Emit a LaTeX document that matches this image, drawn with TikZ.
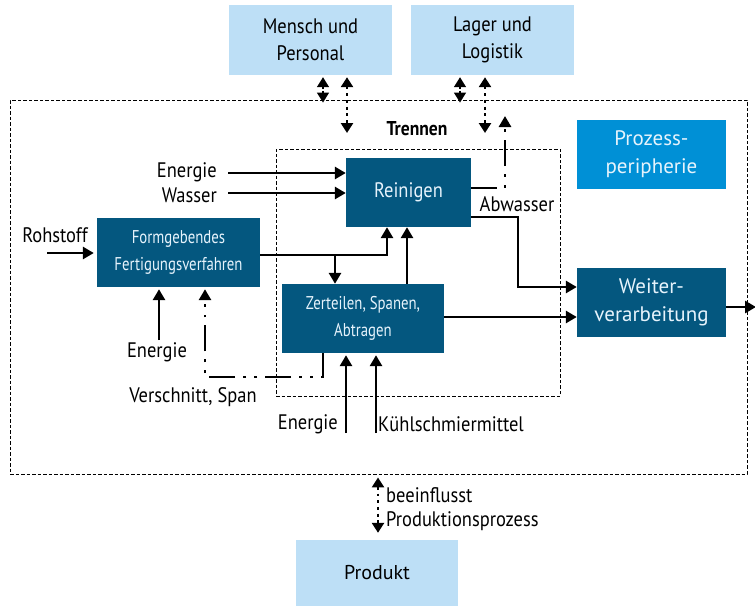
\documentclass[tikz,border=0pt]{standalone}
\usepackage{fontspec}
\setmainfont{PT Sans}[FakeStretch=0.88]
\newfontfamily\widefont{PT Sans}
\newfontfamily\boxfont{PT Sans}[FakeStretch=0.8]
\usetikzlibrary{arrows.meta}
\definecolor{dblue}{HTML}{04577F}
\definecolor{mblue}{HTML}{0090D6}
\definecolor{lblue}{HTML}{BDDFF6}
\definecolor{boxtext}{HTML}{E6F3FC}
\begin{document}
\begin{tikzpicture}[x=1pt,y=-1pt,
  darkbox/.style={fill=dblue,text=boxtext,align=center,inner sep=0pt,minimum height=69pt,font=\boxfont\fontsize{18.5}{27}\selectfont},
  lightbox/.style={fill=lblue,text=black,align=center,inner sep=0pt,minimum height=70pt,font=\fontsize{21}{27}\selectfont},
  frame/.style={draw,dash pattern=on 3.5pt off 2pt,line width=0.9pt,inner sep=0pt},
  lbl/.style={font=\fontsize{21}{26}\selectfont,inner sep=0pt},
  arr/.style={line width=2.9pt,-{Triangle[length=11pt,width=12pt]}},
  dotarr/.style={line width=2.9pt,dash pattern=on 2.9pt off 3.8pt,{Triangle[length=10pt,width=12pt]}-{Triangle[length=10pt,width=12pt]}},
  smallarr/.style={line width=1.5pt,dash pattern=on 2pt off 2pt,{Triangle[length=10pt,width=12pt]}-{Triangle[length=10pt,width=12pt]}},
  dashdot/.style={line width=2.9pt,dash pattern=on 26pt off 8pt on 2.9pt off 8pt on 2.9pt off 8pt,-{Triangle[length=11pt,width=12pt]}}
]
\useasboundingbox (0,0) rectangle (755,606);
% frames
\node[frame,minimum width=737pt,minimum height=374pt] (outer) at (378.5,287) {};
\node[frame,minimum width=284pt,minimum height=247pt] (inner) at (418,272.5) {};
\node[font=\fontsize{20}{20}\bfseries\selectfont,inner sep=0pt] (trennen) at (417,129) {Trennen};
% boxes
\node[lightbox,minimum width=163pt] (mensch) at (310.5,40) {Mensch und\\Personal};
\node[lightbox,minimum width=163pt] (lager) at (492.5,40) {Lager und\\Logistik};
\node[fill=mblue,text=boxtext,align=center,inner sep=0pt,minimum width=149pt,minimum height=69pt,font=\widefont\fontsize{21}{28}\selectfont] (peri) at (651.5,154.5) {Prozess-\\peripherie};
\node[darkbox,minimum width=125pt,font=\fontsize{21}{24}\selectfont] (rein) at (408.5,192.5) {Reinigen};
\node[darkbox,minimum width=163pt] (form) at (178.5,252.5) {Formgebendes\\Fertigungsverfahren};
\node[darkbox,minimum width=162pt] (zer) at (363,318.5) {Zerteilen, Spanen,\\Abtragen};
\node[darkbox,minimum width=149pt,font=\widefont\fontsize{21}{28}\selectfont] (weit) at (651.5,302.5) {Weiter-\\verarbeitung};
\node[lightbox,minimum width=162pt,minimum height=66pt,font=\widefont\fontsize{20}{24}\selectfont] (prod) at (377,573) {Produkt};
% labels
\node[lbl,anchor=east] (len1) at (217,172) {Energie};
\node[lbl,anchor=east] (lwas) at (217,195) {Wasser};
\node[lbl] (lroh) at (55,235) {Rohstoff};
\node[lbl] (len2) at (157,352) {Energie};
\node[lbl] (lver) at (193,397) {Verschnitt, Span};
\node[lbl,anchor=east] (len3) at (338,424) {Energie};
\node[lbl,anchor=west] (lkuehl) at (378,424) {Kühlschmiermittel};
\node[lbl] (labw) at (517,204) {Abwasser};
\node[lbl,anchor=west] (lbee) at (386,495) {beeinflusst};
\node[lbl,anchor=west] (lprp) at (386,521) {Produktionsprozess};
% coordinates
\coordinate (e1) at (228,173);
\coordinate (e2) at (228,193);
\coordinate (r0) at (47,253);
\coordinate (j1) at (387,255);
\coordinate (j2) at (335,255);
\coordinate (j3) at (407,0);
\coordinate (j4) at (518,217);
\coordinate (j5) at (518,287);
\coordinate (j6) at (0,317);
\coordinate (out) at (756,307);
\coordinate (a1) at (505,188);
\coordinate (a2) at (505,116);
\coordinate (e3) at (159,340);
\coordinate (v1) at (323,377);
\coordinate (v2) at (205,377);
\coordinate (e4) at (346,433);
\coordinate (e5) at (376,433);
\coordinate (m1) at (323,0);
\coordinate (m2) at (347,133);
\coordinate (l1) at (460,0);
\coordinate (l2) at (485,133);
\coordinate (b1) at (378,0);
% connectors
\draw[arr] (e1) -- (e1 -| rein.west);
\draw[arr] (e2) -- (e2 -| rein.west);
\draw[arr,shorten >=3pt] (r0) -- (r0 -| form.west);
\draw[arr] (form.east |- j1) -- (j1) -- (j1 |- rein.south);
\draw[arr] (j2) -- (j2 |- zer.north);
\draw[arr] (zer.north -| j3) -- (j3 |- rein.south);
\draw[arr] (rein.east |- j4) -- (j4) -- (j5) -- (j5 -| weit.west);
\draw[arr] (zer.east |- j6) -- (j6 -| weit.west);
\draw[arr] (weit.east |- out) -- (out);
\draw[dashdot] (rein.east |- a1) -- (a1) -- (a2);
\draw[arr,shorten >=2pt] (e3) -- (e3 |- form.south);
\draw[dashdot,shorten >=2pt] (zer.south -| v1) -- (v1) -- (v2) -- (v2 |- form.south);
\draw[arr,shorten >=2pt] (e4) -- (e4 |- zer.south);
\draw[arr,shorten >=2pt] (e5) -- (e5 |- zer.south);
\draw[smallarr,shorten <=2pt,shorten >=-3pt] (mensch.south -| m1) -- (m1 |- outer.north);
\draw[dotarr,shorten <=2pt] (mensch.south -| m2) -- (m2);
\draw[smallarr,shorten <=2pt,shorten >=-3pt] (lager.south -| l1) -- (l1 |- outer.north);
\draw[dotarr,shorten <=2pt] (lager.south -| l2) -- (l2);
\draw[dotarr,shorten <=3pt,shorten >=7pt] (outer.south -| b1) -- (b1 |- prod.north);
\end{tikzpicture}
\end{document}
